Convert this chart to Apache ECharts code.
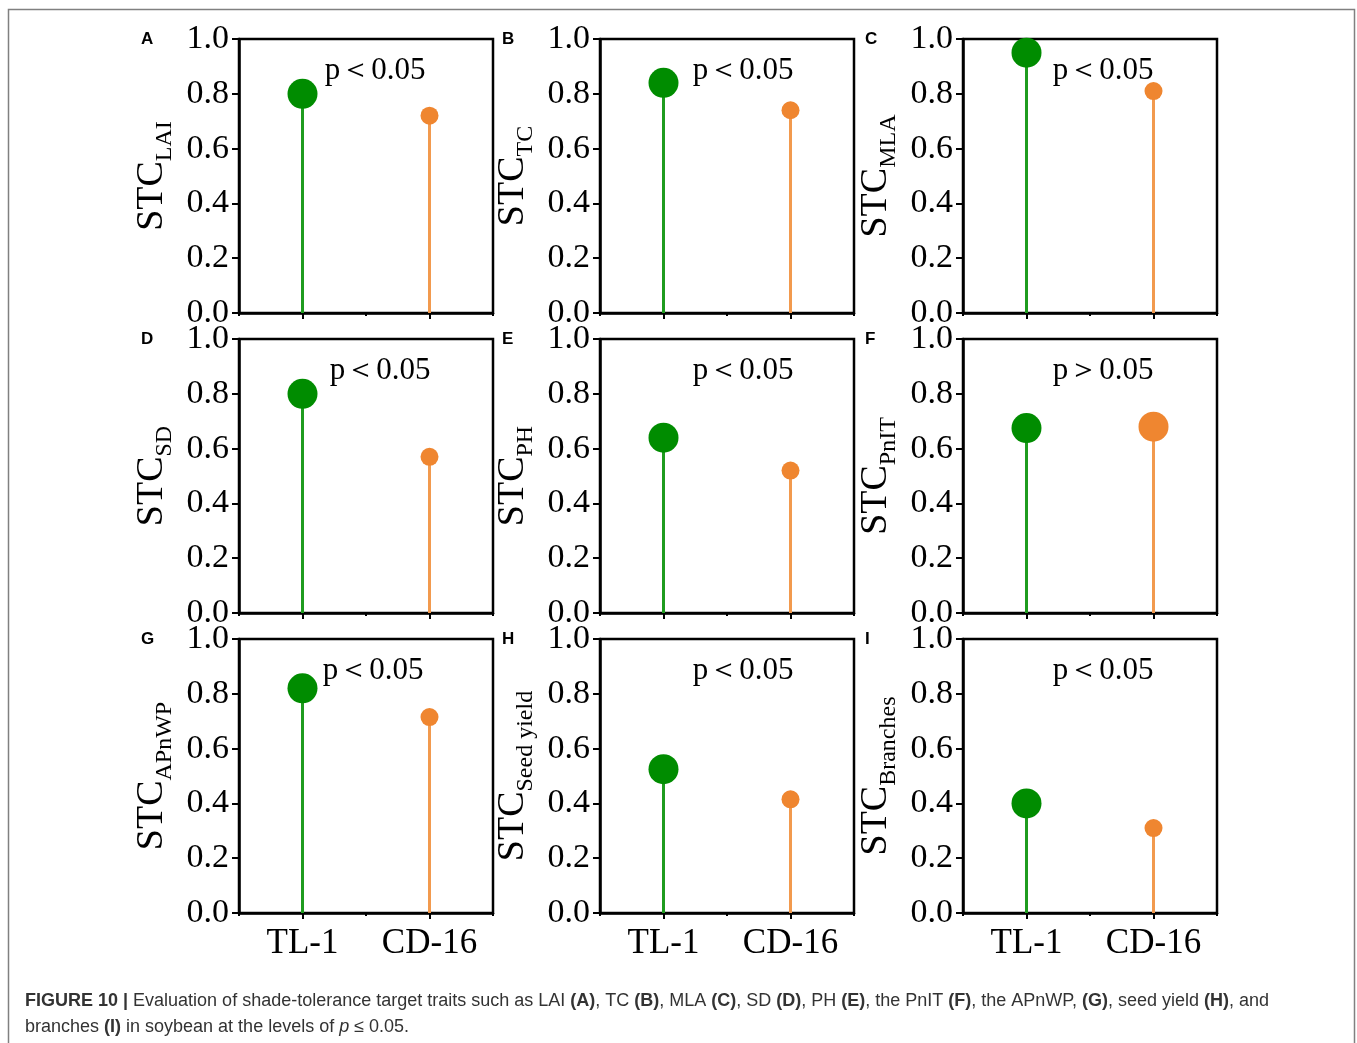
<!DOCTYPE html>
<html>
<head>
<meta charset="utf-8">
<script src="https://cdn.jsdelivr.net/npm/echarts@6/dist/echarts.min.js"></script>
<style>
  html, body { margin: 0; padding: 0; background: #fff; }
  #chart { width: 1357px; height: 1043px; }
</style>
</head>
<body>
<div id="chart"></div>
<script>
// Shade-tolerance coefficients (STC) of two soybean cultivars for nine traits
const categories = ['TL-1', 'CD-16'];
const panelLetters = ['A', 'B', 'C', 'D', 'E', 'F', 'G', 'H', 'I'];
const traitNames = ['LAI', 'TC', 'MLA', 'SD', 'PH', 'PnIT', 'APnWP', 'Seed yield', 'Branches'];
const tl1Values = [0.80, 0.84, 0.95, 0.80, 0.64, 0.675, 0.82, 0.525, 0.40];
const cd16Values = [0.72, 0.74, 0.81, 0.57, 0.52, 0.68, 0.715, 0.415, 0.31];
const significant = [true, true, true, true, true, false, true, true, true];
const pLabels = ['p＜0.05', 'p＜0.05', 'p＜0.05', 'p＜0.05', 'p＜0.05', 'p＞0.05', 'p＜0.05', 'p＜0.05', 'p＜0.05'];
const yTicks = [0, 0.2, 0.4, 0.6, 0.8, 1.0];

// layout of the 3 x 3 panel grid
const colLeft = [239, 600, 963];
const rowTop = [39, 339, 639];
const plotW = 254, plotH = 274;
const pLabelDx = [136, 143, 140, 141, 143, 140, 134, 143, 140];

const dotColors = ['#008c00', '#ef8630'];
const stemColors = ['#1f9c1f', '#f29a4e'];
const serif = '"Liberation Serif", "Times New Roman", serif';

const grids = [], xAxes = [], yAxes = [], series = [], graphics = [];

panelLetters.forEach((letter, i) => {
  const col = i % 3, row = Math.floor(i / 3);
  const left = colLeft[col], top = rowTop[row];
  const vals = [tl1Values[i], cd16Values[i]];
  const maxVal = Math.max(vals[0], vals[1]);
  // larger dot for the higher cultivar; both large when the difference is not significant
  const dotSize = v => (!significant[i] || v === maxVal) ? 30 : 18;

  grids.push({
    left: left, top: top, width: plotW, height: plotH,
    show: true, borderColor: '#000', borderWidth: 2.5, backgroundColor: 'transparent'
  });

  // main category axis: ticks under each cultivar
  xAxes.push({
    gridIndex: i, type: 'category', data: categories,
    axisLine: { show: true, lineStyle: { color: '#000', width: 2.5 } },
    axisTick: { show: true, alignWithLabel: true, length: 6, lineStyle: { color: '#000', width: 2 } },
    axisLabel: {
      show: row === 2, color: '#000', fontFamily: serif, fontSize: 35, margin: 13
    },
    splitLine: { show: false }
  });
  // short ticks on the category boundaries
  xAxes.push({
    gridIndex: i, type: 'category', data: categories, position: 'bottom',
    axisLine: { show: false },
    axisTick: { show: true, alignWithLabel: false, interval: 0, length: 3, lineStyle: { color: '#000', width: 2 } },
    axisLabel: { show: false },
    splitLine: { show: false }
  });

  yAxes.push({
    gridIndex: i, type: 'value', min: yTicks[0], max: yTicks[yTicks.length - 1], interval: 0.2,
    axisLine: { show: true, lineStyle: { color: '#000', width: 2.5 } },
    axisTick: { show: true, length: 7, lineStyle: { color: '#000', width: 2 } },
    axisLabel: {
      color: '#000', fontFamily: serif, fontSize: 34, margin: 10,
      formatter: v => v.toFixed(1)
    },
    splitLine: { show: false },
    name: '{m|STC}{s|' + traitNames[i] + '}',
    nameLocation: 'middle', nameRotate: 90, nameGap: 62,
    nameTextStyle: {
      rich: {
        m: { fontFamily: serif, fontSize: 38, color: '#000', lineHeight: 44, verticalAlign: 'top' },
        s: { fontFamily: serif, fontSize: 24, color: '#000', lineHeight: 24, verticalAlign: 'bottom' }
      }
    }
  });

  // stems
  series.push({
    type: 'bar', xAxisIndex: 2 * i, yAxisIndex: i, barWidth: 3, silent: true,
    data: vals.map((v, k) => ({ value: v, itemStyle: { color: stemColors[k] } })),
    z: 2
  });
  // dots
  series.push({
    type: 'scatter', xAxisIndex: 2 * i, yAxisIndex: i, symbol: 'circle',
    itemStyle: { opacity: 1 },
    data: vals.map((v, k) => ({
      value: [k, v], symbolSize: dotSize(v),
      itemStyle: { color: dotColors[k], opacity: 1 }
    })),
    z: 3
  });

  graphics.push({
    type: 'text', left: left - 91 - 7, top: top - 8,
    style: { text: letter, font: 'bold 17px "Liberation Sans", Arial, sans-serif', fill: '#000' }
  });
  graphics.push({
    type: 'text', x: left + pLabelDx[i], y: top + 32,
    style: {
      text: pLabels[i], fontFamily: serif, fontSize: 31, fill: '#000',
      align: 'center', verticalAlign: 'middle'
    }
  });
});

// figure frame and caption
graphics.push({
  type: 'rect', shape: { x: 8.5, y: 9.5, width: 1346, height: 1100 },
  style: { fill: 'none', stroke: '#808080', lineWidth: 1.5 }, silent: true
});
const capFamily = '"Liberation Sans", Arial, sans-serif';
const capSize = 18;
const capColor = '#333';
graphics.push({
  type: 'text', x: 25, y: 1001,
  style: {
    text: '{b|FIGURE 10 |} Evaluation of shade-tolerance target traits such as LAI {b|(A)}, TC {b|(B)}, MLA {b|(C)}, SD {b|(D)}, PH {b|(E)}, the PnIT {b|(F)}, the APnWP, {b|(G)}, seed yield {b|(H)}, and',
    fontFamily: capFamily, fontSize: capSize, fill: capColor,
    verticalAlign: 'middle',
    rich: { b: { fontFamily: capFamily, fontSize: capSize, fontWeight: 'bold', color: '#111' } }
  }
});
graphics.push({
  type: 'text', x: 25, y: 1027,
  style: {
    text: 'branches {b|(I)} in soybean at the levels of {i|p} ≤ 0.05.',
    fontFamily: capFamily, fontSize: capSize, fill: capColor,
    verticalAlign: 'middle',
    rich: {
      b: { fontFamily: capFamily, fontSize: capSize, fontWeight: 'bold', color: '#111' },
      i: { fontFamily: capFamily, fontSize: capSize, fontStyle: 'italic', color: capColor }
    }
  }
});

const chart = echarts.init(document.getElementById('chart'), null, { renderer: 'canvas' });
chart.setOption({
  animation: false,
  backgroundColor: '#fff',
  grid: grids,
  xAxis: xAxes,
  yAxis: yAxes,
  series: series,
  graphic: graphics
});
</script>
</body>
</html>
